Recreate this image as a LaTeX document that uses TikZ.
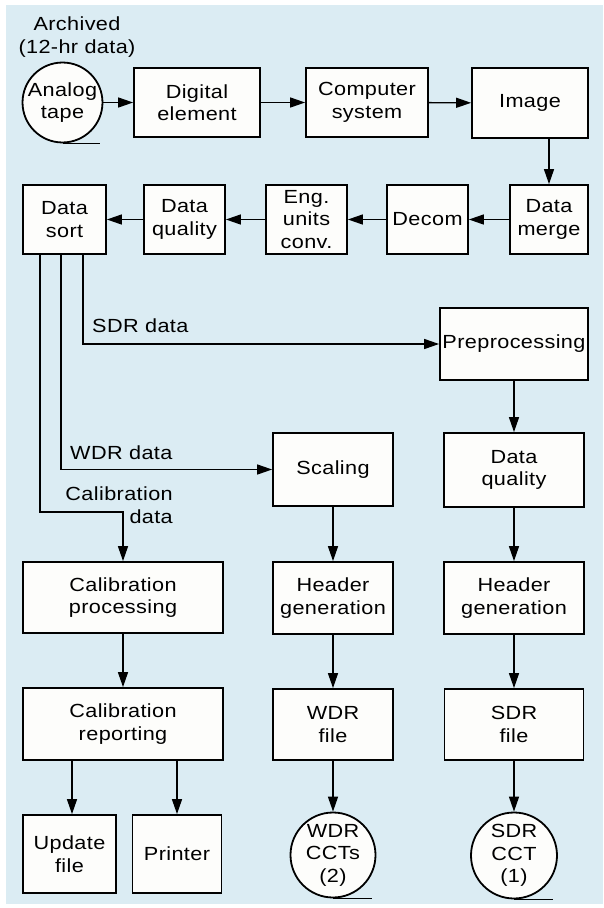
\documentclass[tikz,border=0pt]{standalone}
\usepackage{fontspec}
\setmainfont{Liberation Sans}[FakeStretch=1.14,LetterSpace=2.0]
\usepackage{xcolor}
\definecolor{paneBlue}{RGB}{219,236,243}
\definecolor{boxWhite}{RGB}{253,253,251}
\usepackage{tikz}
\usetikzlibrary{
  arrows.meta
}
\newcommand{\flowfont}{\fontsize{19}{22.5}\selectfont}
\tikzset{
  flowbox/.style={
    draw=black,
    fill=boxWhite,
    line width=1.8pt,
    align=center,
    font=\flowfont,
    inner sep=2pt
  },
  tapereel/.style={
    draw=black,
    fill=boxWhite,
    circle,
    line width=1.8pt,
    align=center,
    font=\flowfont,
    inner sep=0pt,
    minimum size=#1
  },
  flowarrow/.style={
    -{Triangle[length=15pt,width=10pt]},
    line width=1.4pt,
    black
  },
  flowline/.style={line width=1.4pt, black},
  flowlabel/.style={font=\flowfont, inner sep=0pt}
}

\begin{document}
\begin{tikzpicture}[
  x=1pt, y=-1pt,
  wbox/.style 2 args={flowbox, minimum width=#1, minimum height=#2}
]
  \fill[white] (0,0) rectangle (603,908);
  \fill[paneBlue] (6,5) rectangle (603,904);
  \useasboundingbox (0,0) rectangle (603,908);

  % top row
  \node[flowlabel, align=center, anchor=north] (archived) at (77,17) {Archived\\(12-hr data)};
  \node[tapereel=79pt] (tape) at (62.5,102.5) {Analog\\tape};
  \node[wbox={126pt}{69pt}] (digital) at (197,102.5) {Digital\\element};
  \node[wbox={122pt}{69pt}] (computer) at (367,102.5) {Computer\\system};
  \node[wbox={116pt}{70pt}] (image) at (530,103) {Image};

  % second row, right to left
  \node[wbox={78pt}{69pt}] (merge) at (549,219.5) {Data\\merge};
  \node[wbox={81pt}{69pt}] (decom) at (427.5,219.5) {Decom};
  \node[wbox={81pt}{69pt}] (engconv) at (306.5,219.5) {Eng.\\units\\conv.};
  \node[wbox={81pt}{69pt}] (dquality) at (184.5,219.5) {Data\\quality};
  \node[wbox={83pt}{69pt}] (sort) at (64.5,219.5) {Data\\sort};

  % three branches
  \node[wbox={148pt}{72pt}] (prep) at (514,344) {Preprocessing};
  \node[wbox={140pt}{74pt}] (sdrquality) at (514,470) {Data\\quality};
  \node[wbox={140pt}{72pt}] (sdrheader) at (514,598) {Header\\generation};
  \node[wbox={139pt}{71pt}] (sdrfile) at (514,724.5) {SDR\\file};
  \node[tapereel=86pt] (sdrcct) at (514,855.5) {SDR\\CCT\\(1)};

  \node[wbox={120pt}{73pt}] (scaling) at (333,469.5) {Scaling};
  \node[wbox={120pt}{72pt}] (wdrheader) at (333,598) {Header\\generation};
  \node[wbox={120pt}{71pt}] (wdrfile) at (333,724.5) {WDR\\file};
  \node[tapereel=85pt] (wdrcct) at (333,855) {WDR\\CCTs\\(2)};

  \node[wbox={200pt}{71pt}] (calproc) at (123,597.5) {Calibration\\processing};
  \node[wbox={200pt}{72pt}] (calrep) at (123,724) {Calibration\\reporting};
  \node[wbox={93pt}{78pt}] (update) at (69.5,854) {Update\\file};
  \node[wbox={89pt}{78pt}] (printer) at (177,854) {Printer};

  \node[flowlabel, anchor=base west] (sdrlabel) at (92,332) {SDR data};
  \node[flowlabel, anchor=base west] (wdrlabel) at (70,459) {WDR data};
  \node[flowlabel, align=right, anchor=north east] (callabel) at (173,487) {Calibration\\data};
  \coordinate (calbend) at (123,512);

  % tape tails
  \draw[flowline] (tape.south) -- ++(37,0);
  \draw[flowline] (wdrcct.south) -- ++(39,0);
  \draw[flowline] (sdrcct.south) -- ++(39,0);

  % connectors
  \draw[flowarrow] (tape) -- (digital);
  \draw[flowarrow] (digital) -- (computer);
  \draw[flowarrow] (computer) -- (image);
  \draw[flowarrow] (merge.north |- image.south) -- (merge.north);
  \draw[flowarrow] (merge) -- (decom);
  \draw[flowarrow] (decom) -- (engconv);
  \draw[flowarrow] (engconv) -- (dquality);
  \draw[flowarrow] (dquality) -- (sort);

  \draw[flowarrow] ([xshift=18.5pt]sort.south) |- (prep.west);
  \draw[flowarrow] ([xshift=-3.5pt]sort.south) |- (scaling.west);
  \draw[flowarrow] ([xshift=-24.5pt]sort.south) |- (calbend) -- (calproc.north);

  \draw[flowarrow] (prep) -- (sdrquality);
  \draw[flowarrow] (sdrquality) -- (sdrheader);
  \draw[flowarrow] (sdrheader) -- (sdrfile);
  \draw[flowarrow] (sdrfile) -- (sdrcct);

  \draw[flowarrow] (scaling) -- (wdrheader);
  \draw[flowarrow] (wdrheader) -- (wdrfile);
  \draw[flowarrow] (wdrfile) -- (wdrcct);

  \draw[flowarrow] (calproc) -- (calrep);
  \draw[flowarrow] ([xshift=-51pt]calrep.south) -- ([xshift=-51pt]calrep.south |- update.north);
  \draw[flowarrow] ([xshift=54pt]calrep.south) -- (printer.north);
\end{tikzpicture}
\end{document}
